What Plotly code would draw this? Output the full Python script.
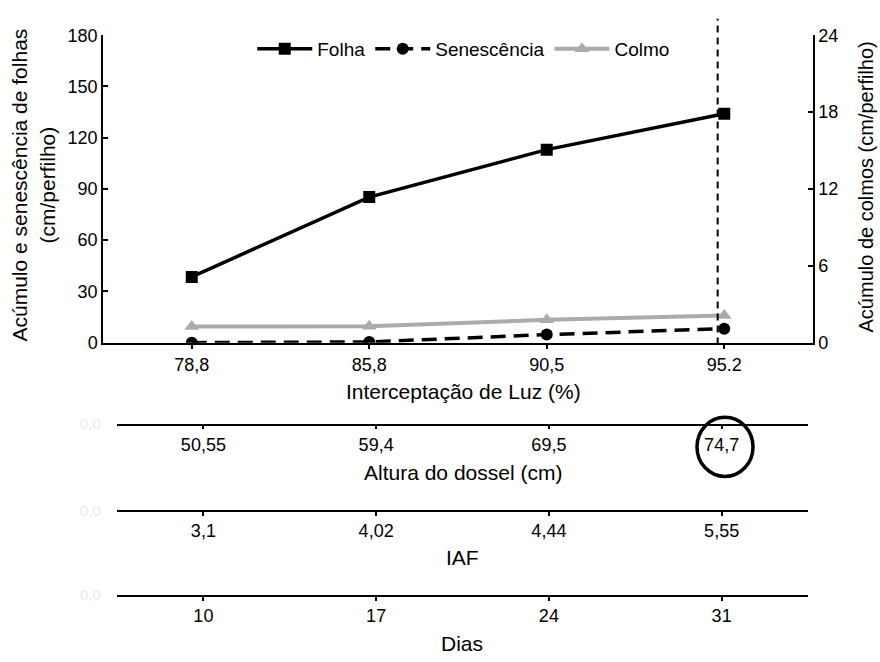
import plotly.graph_objects as go

# ---- data ----
luz = ["78,8", "85,8", "90,5", "95.2"]
altura = ["50,55", "59,4", "69,5", "74,7"]
iaf = ["3,1", "4,02", "4,44", "5,55"]
dias = ["10", "17", "24", "31"]

folha = [38.5, 85.2, 113.0, 134.0]
senescencia = [0.0, 0.4, 4.7, 8.2]
colmo = [1.25, 1.28, 1.78, 2.12]

W, H = 880, 662
FONT = "Liberation Sans, Arial, sans-serif"

def py(pix):  # pixel y from top -> paper
    return (H - pix) / H

def px(pix):
    return pix / W

main_dom = [px(103), px(813)]
low_dom = [px(117), px(808)]
xrange = [-0.5, 3.5]

fig = go.Figure()

fig.add_trace(go.Scatter(
    x=luz, y=folha, name="Folha", mode="lines+markers",
    line=dict(color="black", width=3.5),
    marker=dict(symbol="square", size=12, color="black"),
))
fig.add_trace(go.Scatter(
    x=luz, y=senescencia, name="Senescência", mode="lines+markers",
    line=dict(color="black", width=3.5, dash="15px,8px"),
    marker=dict(symbol="circle", size=12, color="black"),
))
fig.add_trace(go.Scatter(
    x=luz, y=colmo, name="Colmo", mode="lines+markers", yaxis="y2",
    line=dict(color="#ababab", width=4),
    marker=dict(symbol="triangle-up", size=13, color="#ababab"),
))

# helper traces so the extra category axes are drawn (each on its own hidden y axis)
for ax, yax, labels in (("x2", "y3", altura), ("x3", "y4", iaf), ("x4", "y5", dias)):
    fig.add_trace(go.Scatter(x=labels, y=[None] * len(labels), xaxis=ax, yaxis=yax,
                             mode="markers", showlegend=False, hoverinfo="skip"))

tickfont = dict(family=FONT, size=18, color="black")

def xaxis_common(**kw):
    d = dict(type="category", range=xrange, showline=True,
             linecolor="black", linewidth=1.5, ticks="outside", ticklen=4,
             tickcolor="black", tickwidth=1.5, tickfont=tickfont,
             showgrid=False, zeroline=False, fixedrange=True)
    d.update(kw)
    return d

def hidden_y(pix):
    return dict(domain=[py(pix), py(pix) + 0.01], visible=False, range=[0, 1],
                fixedrange=True, showgrid=False, zeroline=False)

fig.update_layout(
    width=W, height=H,
    margin=dict(l=0, r=0, t=0, b=0),
    paper_bgcolor="white", plot_bgcolor="rgba(0,0,0,0)",
    font=dict(family=FONT, color="black"),
    xaxis=xaxis_common(anchor="y", domain=main_dom, ticklen=5),
    xaxis2=xaxis_common(anchor="y3", domain=low_dom),
    xaxis3=xaxis_common(anchor="y4", domain=low_dom),
    xaxis4=xaxis_common(anchor="y5", domain=low_dom),
    yaxis=dict(domain=[py(343), py(26)], range=[0, 180], dtick=30,
               showline=True, linecolor="black", linewidth=1.5,
               ticks="inside", ticklen=5, tickcolor="black", tickwidth=1.5,
               tickfont=tickfont, showgrid=False, zeroline=False),
    yaxis2=dict(overlaying="y", side="right", range=[0, 24], dtick=6,
                showline=True, linecolor="black", linewidth=1.5,
                ticks="inside", ticklen=5, tickcolor="black", tickwidth=1.5,
                tickfont=tickfont, showgrid=False, zeroline=False),
    yaxis3=hidden_y(426.5),
    yaxis4=hidden_y(515.5),
    yaxis5=hidden_y(603),
    legend=dict(orientation="h", x=0.527, xanchor="center", y=py(40), yanchor="middle",
                font=dict(family=FONT, size=19, color="black"),
                bgcolor="rgba(0,0,0,0)", itemwidth=55),
    showlegend=True,
)

# vertical dashed reference line
fig.add_shape(type="line", xref="x", yref="paper", x0=2.963, x1=2.963,
              y0=py(345), y1=py(9), line=dict(color="black", width=2, dash="7px,5px"))

# circle around 74,7
fig.add_shape(type="circle", xref="paper", yref="paper",
              x0=px(697), x1=px(753), y0=py(481), y1=py(420),
              line=dict(color="black", width=3.5))

titlefont = dict(family=FONT, size=21, color="black")
anns = [
    dict(text="Interceptação de Luz (%)", x=px(464), y=py(393)),
    dict(text="Altura do dossel (cm)", x=px(463), y=py(477)),
    dict(text="IAF", x=px(462), y=py(565)),
    dict(text="Dias", x=px(462), y=py(653)),
    dict(text="Acúmulo e senescência de folhas<br>(cm/perfilho)", x=px(33), y=py(181), textangle=-90),
    dict(text="Acúmulo de colmos (cm/perfilho)", x=px(866), y=py(183), textangle=-90,
         font=dict(family=FONT, size=20, color="black")),
]
for a in anns:
    a.setdefault("font", titlefont)
    fig.add_annotation(xref="paper", yref="paper", showarrow=False,
                       xanchor="center", yanchor="middle", **a)

for yy in (426, 516, 603):
    fig.add_annotation(xref="paper", yref="paper", showarrow=False, text="0,0",
                       x=px(90), y=py(yy), xanchor="center", yanchor="middle",
                       font=dict(family=FONT, size=15, color="#ebebeb"))

fig.write_html("out.html")
